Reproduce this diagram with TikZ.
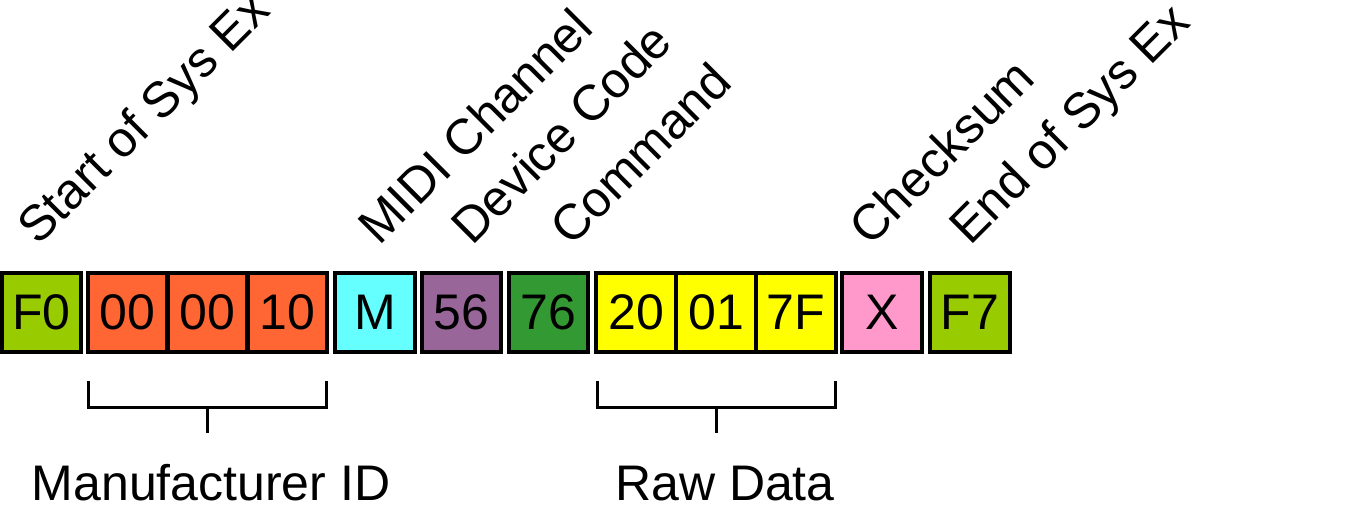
\documentclass[tikz,border=0pt]{standalone}
\usepackage{fontspec}
\setmainfont{Liberation Sans}
\usetikzlibrary{calc}

\definecolor{sysgreen}{RGB}{153,204,0}
\definecolor{mfrorange}{RGB}{255,102,51}
\definecolor{chancyan}{RGB}{102,255,255}
\definecolor{devpurple}{RGB}{153,102,153}
\definecolor{cmdgreen}{RGB}{51,153,51}
\definecolor{datayellow}{RGB}{255,255,0}
\definecolor{sumpink}{RGB}{255,153,204}

\begin{document}
\begin{tikzpicture}[
  x=0.75pt, y=-0.75pt,
  font=\fontsize{37.5}{45}\selectfont,
  byte/.style={draw=black, line width=2.7pt, minimum size=59.6pt, inner sep=0pt},
  tag/.style={rotate=45, anchor=base west, inner sep=0pt},
  brace/.style={line width=2.25pt}
]
\useasboundingbox (0,0) rectangle (1358,513);

% ---- message bytes ----
\foreach \x/\val/\col/\id in {41.5/F0/sysgreen/s0, 127.5/00/mfrorange/m1,
  207.5/00/mfrorange/m2, 287.5/10/mfrorange/m3, 375/M/chancyan/ch,
  461.5/56/devpurple/dev, 548.5/76/cmdgreen/cmd, 636/20/datayellow/d1,
  716/01/datayellow/d2, 796/7F/datayellow/d3, 882/X/sumpink/sum,
  970/F7/sysgreen/s7}
{
  \node[byte, fill=\col] (\id) at (\x,312.5) {\val};
}

% ---- field names (slanted) ----
\node[tag] (lstart) at (38,247)  {Start of Sys Ex};
\node[tag] (lchan)  at (379,247) {MIDI Channel};
\node[tag] (ldev)   at (472,247) {Device Code};
\node[tag] (lcmd)   at (571,248) {Command};
\node[tag] (lsum)   at (870,248) {Checksum};
\node[tag] (lend)   at (970,247) {End of Sys Ex};

% ---- groups ----
\draw[brace] ($(m1.south west)+(3,27)$) |- ($(m3.south east)+(-3,53)$) -- ($(m3.south east)+(-3,27)$);
\draw[brace] ($(m2.south)+(0,53)$) -- ($(m2.south)+(0,79)$);
\node[anchor=base] (mfr) at (211,500) {Manufacturer ID};

\draw[brace] ($(d1.south west)+(3,27)$) |- ($(d3.south east)+(-2,53)$) -- ($(d3.south east)+(-2,27)$);
\draw[brace] ($(d2.south)+(0,53)$) -- ($(d2.south)+(0,79)$);
\node[anchor=base] (raw) at (725,500) {Raw Data};
\end{tikzpicture}
\end{document}
